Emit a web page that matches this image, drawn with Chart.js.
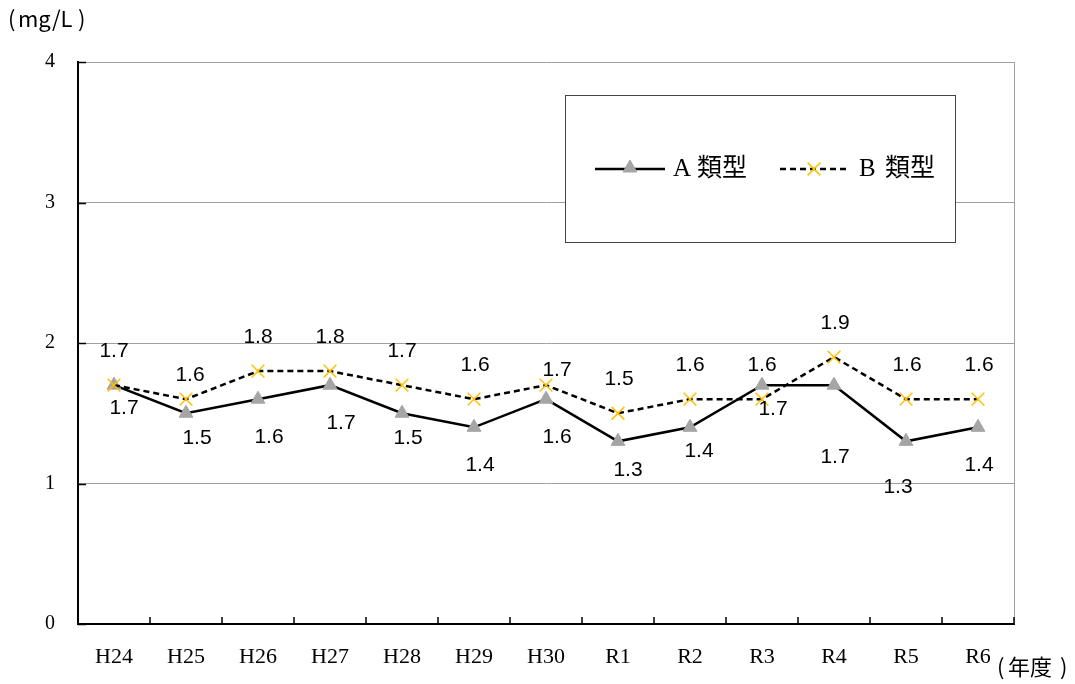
<!DOCTYPE html>
<html>
<head>
<meta charset="utf-8">
<script src="https://cdn.jsdelivr.net/npm/chart.js@4/dist/chart.umd.min.js"></script>
<style>
  body { margin: 0; background: #fff; }
  #wrap { width: 1075px; height: 684px; position: relative; }
</style>
</head>
<body>
<div id="wrap"><canvas id="WaterChart"></canvas></div>
<script>
// 年度
const years = ["H24", "H25", "H26", "H27", "H28", "H29", "H30", "R1", "R2", "R3", "R4", "R5", "R6"];
// 値 (mg/L)
const typeA = [1.7, 1.5, 1.6, 1.7, 1.5, 1.4, 1.6, 1.3, 1.4, 1.7, 1.7, 1.3, 1.4];
const typeB = [1.7, 1.6, 1.8, 1.8, 1.7, 1.6, 1.7, 1.5, 1.6, 1.6, 1.9, 1.6, 1.6];
const yTicks = [0, 1, 2, 3, 4];

// ラベルの微調整 (px, 点からのずれ)
const nudgeA = [[10,23],[11,25],[11,38],[11,38],[6,25],[6,38],[11,38],[10,29],[9,24],[11,24],[1,72],[-8,46],[1,38]];
const nudgeB = [[0,-34],[4,-24],[0,-34],[0,-34],[0,-34],[1,-34],[11,-15],[1,-34],[0,-34],[0,-34],[1,-34],[1,-34],[1,-34]];

const serif = '"Liberation Serif", "Noto Sans CJK JP", serif';
const gothic = '"Noto Sans CJK JP", sans-serif';

// 内向きの目盛りと右枠
const frameTicks = {
    id: 'frameTicks',
    beforeDatasetsDraw(chart) {
        const ctx = chart.ctx, a = chart.chartArea;
        const y = chart.scales.y;
        ctx.save();
        ctx.strokeStyle = '#a0a0a0';
        ctx.lineWidth = 1;
        ctx.beginPath();
        ctx.moveTo(a.right + 0.5, a.top);
        ctx.lineTo(a.right + 0.5, a.bottom);
        ctx.stroke();
        ctx.strokeStyle = '#000';
        ctx.lineWidth = 1.5;
        ctx.beginPath();
        const step = (a.right - a.left) / years.length;
        for (let k = 1; k <= years.length; k++) {
            const px = Math.round(a.left + k * step);
            ctx.moveTo(px, a.bottom);
            ctx.lineTo(px, a.bottom - 7);
        }
        yTicks.forEach(v => {
            const py = Math.round(y.getPixelForValue(v)) + 0.5;
            ctx.moveTo(a.left, py);
            ctx.lineTo(a.left + 8, py);
        });
        ctx.stroke();
        ctx.restore();
    }
};

// データラベル・凡例・単位
const extras = {
    id: 'extras',
    afterDraw(chart) {
        const ctx = chart.ctx;
        ctx.save();
        ctx.fillStyle = '#000';
        ctx.textAlign = 'center';
        ctx.textBaseline = 'middle';
        ctx.font = '21px "Liberation Sans", Arial, sans-serif';
        const metaA = chart.getDatasetMeta(0), metaB = chart.getDatasetMeta(1);
        typeA.forEach((v, i) => {
            const p = metaA.data[i];
            ctx.fillText(v.toFixed(1), p.x + nudgeA[i][0], p.y + nudgeA[i][1]);
        });
        typeB.forEach((v, i) => {
            const p = metaB.data[i];
            ctx.fillText(v.toFixed(1), p.x + nudgeB[i][0], p.y + nudgeB[i][1]);
        });

        // 単位
        ctx.textAlign = 'left';
        ctx.font = '22px ' + gothic;
        ctx.fillText('(', 8, 19);
        ctx.fillText('mg/L', 18, 19);
        ctx.fillText(')', 78, 19);
        ctx.fillText('(', 997, 667);
        ctx.fillText('年度', 1008, 667);
        ctx.fillText(')', 1060, 667);

        // 凡例
        ctx.fillStyle = '#fff';
        ctx.fillRect(565, 95, 390, 147);
        ctx.strokeStyle = '#444';
        ctx.lineWidth = 1;
        ctx.strokeRect(565.5, 95.5, 390, 147);
        const ly = 169;
        const dsA = chart.data.datasets[0], dsB = chart.data.datasets[1];
        ctx.strokeStyle = '#000';
        ctx.lineWidth = 2.5;
        ctx.beginPath(); ctx.moveTo(595, ly); ctx.lineTo(665, ly); ctx.stroke();
        ctx.fillStyle = dsA.pointBackgroundColor;
        ctx.strokeStyle = dsA.pointBorderColor;
        ctx.lineWidth = 1;
        Chart.helpers.drawPoint(ctx, { pointStyle: 'triangle', radius: 8, borderWidth: 1, rotation: 0 }, 630, ly - 1);
        ctx.strokeStyle = '#000';
        ctx.lineWidth = 2.5;
        ctx.setLineDash([6, 4]);
        ctx.beginPath(); ctx.moveTo(780, ly); ctx.lineTo(848, ly); ctx.stroke();
        ctx.setLineDash([]);
        ctx.strokeStyle = dsB.pointBorderColor;
        ctx.lineWidth = dsB.pointBorderWidth;
        Chart.helpers.drawPoint(ctx, { pointStyle: 'crossRot', radius: 9, borderWidth: 1.5, rotation: 0 }, 814, ly);
        ctx.fillStyle = '#000';
        ctx.font = '25px ' + serif;
        // 先頭の英字と漢字の間を少しあける
        ctx.fillText(dsA.label.charAt(0), 673, ly);
        ctx.fillText(dsA.label.slice(1), 697, ly);
        ctx.fillText(dsB.label.charAt(0), 859, ly);
        ctx.fillText(dsB.label.slice(1), 885, ly);
        ctx.restore();
    }
};

const ctxWater = document.getElementById('WaterChart').getContext('2d');

const waterChart = new Chart(ctxWater, {
    type: 'line',
    data: {
        labels: years,
        datasets: [{
            label: 'A類型',
            data: typeA,
            borderColor: '#000',
            borderWidth: 2.5,
            pointStyle: 'triangle',
            pointRadius: 8,
            pointBackgroundColor: '#a5a5a5',
            pointBorderColor: '#a5a5a5',
            pointBorderWidth: 1,
            tension: 0,
            order: 1
        }, {
            label: 'B類型',
            data: typeB,
            borderColor: '#000',
            borderWidth: 2.5,
            borderDash: [6, 4],
            pointStyle: 'crossRot',
            pointRadius: 9,
            pointBorderColor: '#FFC000',
            pointBorderWidth: 1.5,
            tension: 0,
            order: 0
        }]
    },
    options: {
        responsive: true,
        maintainAspectRatio: false,
        animation: false,
        layout: { padding: { top: 62, right: 61, left: 0, bottom: 0 } },
        scales: {
            x: {
                offset: true,
                grid: { display: false, drawTicks: false },
                border: { display: true, color: '#000', width: 2 },
                ticks: { color: '#000', font: { family: serif, size: 22 }, padding: 20, maxRotation: 0 },
                afterFit(s) { s.height = 60; }
            },
            y: {
                min: 0,
                max: 4,
                afterBuildTicks(s) { s.ticks = yTicks.map(v => ({ value: v })); },
                grid: { color: '#a0a0a0', lineWidth: 1, drawTicks: false },
                border: { display: true, color: '#000', width: 2 },
                ticks: { color: '#000', font: { family: serif, size: 20 }, padding: 23 },
                afterFit(s) { s.width = 78; }
            }
        },
        plugins: {
            legend: { display: false },
            tooltip: { enabled: false }
        }
    },
    plugins: [frameTicks, extras]
});
</script>
</body>
</html>
